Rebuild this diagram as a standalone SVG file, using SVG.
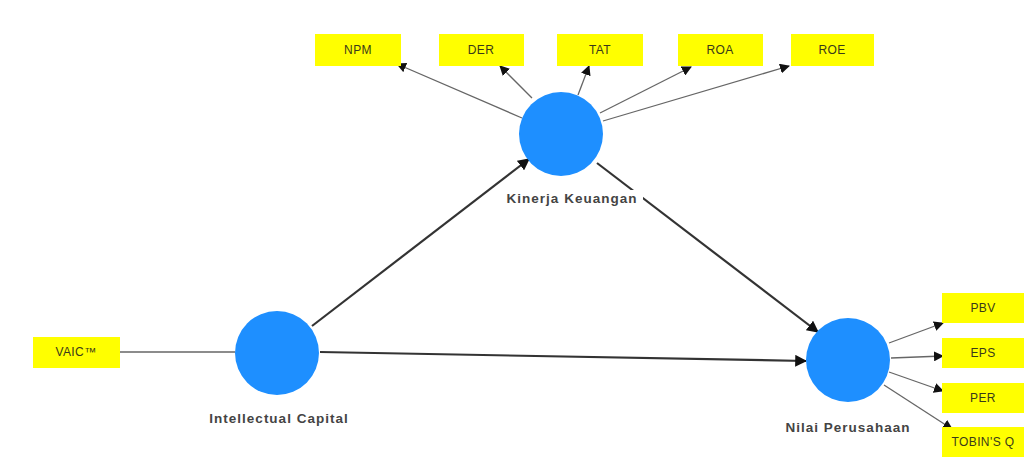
<svg xmlns="http://www.w3.org/2000/svg" width="1024" height="457" viewBox="0 0 1024 457">
<style>
.box{fill:#ffff00;}
.bt{font-family:"Liberation Sans",Arial,sans-serif;font-size:12px;letter-spacing:0.4px;fill:#3a3a1a;text-anchor:middle;}
.lv{fill:#1e8fff;}
.lt{font-family:"Liberation Sans",Arial,sans-serif;font-size:13.5px;letter-spacing:1px;font-weight:bold;fill:#444;text-anchor:middle;}
.ind{stroke:#666;stroke-width:1.3;fill:none;}
.str{stroke:#333;stroke-width:2.2;fill:none;}
</style>
<defs>
<marker id="ah" viewBox="0 0 10 10" refX="9" refY="5" markerWidth="10" markerHeight="10" markerUnits="userSpaceOnUse" orient="auto"><path d="M0,0 L10,5 L0,10 z" fill="#111"/></marker>
<marker id="ah2" viewBox="0 0 10 10" refX="9" refY="5" markerWidth="12" markerHeight="12" markerUnits="userSpaceOnUse" orient="auto"><path d="M0,0 L10,5 L0,10 z" fill="#111"/></marker>
</defs>
<g id="connectors">
<line class="ind" x1="522" y1="118" x2="397" y2="64" marker-end="url(#ah)"/>
<line class="ind" x1="532" y1="98" x2="500" y2="66" marker-end="url(#ah)"/>
<line class="ind" x1="578" y1="95" x2="589" y2="66" marker-end="url(#ah)"/>
<line class="ind" x1="600" y1="113" x2="691" y2="67" marker-end="url(#ah)"/>
<line class="ind" x1="603" y1="121" x2="789" y2="66" marker-end="url(#ah)"/>
<line class="ind" x1="120" y1="352" x2="235" y2="352"/>
<line class="str" x1="312" y1="326" x2="529" y2="159" marker-end="url(#ah2)"/>
<line class="str" x1="597" y1="163" x2="818" y2="332" marker-end="url(#ah2)"/>
<line class="str" x1="320" y1="352" x2="806" y2="361" marker-end="url(#ah2)"/>
<line class="ind" x1="889" y1="343" x2="943" y2="323" marker-end="url(#ah)"/>
<line class="ind" x1="891" y1="358" x2="943" y2="356" marker-end="url(#ah)"/>
<line class="ind" x1="889" y1="372" x2="943" y2="391" marker-end="url(#ah)"/>
<line class="ind" x1="884" y1="385" x2="952" y2="429" marker-end="url(#ah)"/>
</g>
<g id="NPM"><rect class="box" x="315" y="34" width="86" height="32"/><text class="bt" x="358" y="54">NPM</text></g>
<g id="DER"><rect class="box" x="439" y="34" width="85" height="32"/><text class="bt" x="481" y="54">DER</text></g>
<g id="TAT"><rect class="box" x="557" y="34" width="86" height="32"/><text class="bt" x="600" y="54">TAT</text></g>
<g id="ROA"><rect class="box" x="678" y="34" width="85" height="32"/><text class="bt" x="720" y="54">ROA</text></g>
<g id="ROE"><rect class="box" x="791" y="34" width="83" height="32"/><text class="bt" x="832" y="54">ROE</text></g>
<g id="VAIC"><rect class="box" x="33" y="337" width="87" height="31"/><text class="bt" x="76" y="356">VAIC™</text></g>
<g id="PBV"><rect class="box" x="942" y="293" width="82" height="30"/><text class="bt" x="983" y="312">PBV</text></g>
<g id="EPS"><rect class="box" x="942" y="338" width="82" height="30"/><text class="bt" x="983" y="357">EPS</text></g>
<g id="PER"><rect class="box" x="942" y="383" width="82" height="30"/><text class="bt" x="983" y="402">PER</text></g>
<g id="TOBINSQ"><rect class="box" x="942" y="427" width="82" height="30"/><text class="bt" x="983" y="446">TOBIN'S Q</text></g>
<g id="KinerjaKeuangan"><circle class="lv" cx="561" cy="134" r="42"/><rect x="503" y="190" width="140" height="17" fill="#fff"/><text class="lt" x="572" y="203">Kinerja Keuangan</text></g>
<g id="IntellectualCapital"><circle class="lv" cx="277" cy="353" r="42"/><text class="lt" x="279" y="423">Intellectual Capital</text></g>
<g id="NilaiPerusahaan"><circle class="lv" cx="848" cy="360" r="42"/><text class="lt" x="848" y="432">Nilai Perusahaan</text></g>
</svg>
